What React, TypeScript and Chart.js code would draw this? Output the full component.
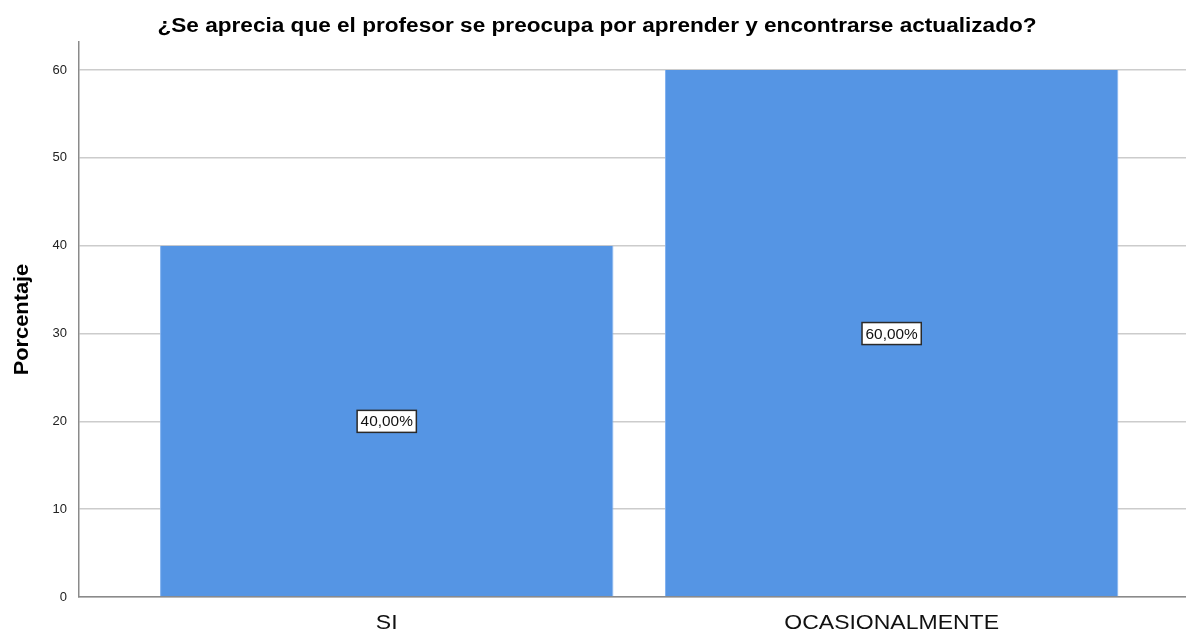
import React, { useEffect, useRef } from "react";
import { Chart, registerables } from "chart.js";

Chart.register(...registerables);

const categories: string[] = ["SI", "OCASIONALMENTE"];
const percentages: number[] = [40, 60];
const valueLabels: string[] = ["40,00%", "60,00%"];
const yTicks: number[] = [0, 10, 20, 30, 40, 50, 60];
const titleText = "¿Se aprecia que el profesor se preocupa por aprender y encontrarse actualizado?";
const yAxisTitle = "Porcentaje";

const W = 1186;
const H = 632;
const FONT = "Arial, 'Liberation Sans', sans-serif";

function stretchedText(
  ctx: CanvasRenderingContext2D,
  text: string,
  x: number,
  y: number,
  font: string,
  sx: number,
  rot = 0
) {
  ctx.save();
  ctx.font = font;
  ctx.textAlign = "center";
  ctx.textBaseline = "alphabetic";
  ctx.translate(x, y);
  if (rot) ctx.rotate(rot);
  ctx.scale(sx, 1);
  ctx.fillText(text, 0, 0);
  ctx.restore();
}

const textPlugin = {
  id: "spssText",
  afterDraw(chart: any) {
    const ctx: CanvasRenderingContext2D = chart.ctx;
    const area = chart.chartArea;
    const xScale = chart.scales.x;
    const yScale = chart.scales.y;

    // title
    ctx.fillStyle = "#000000";
    stretchedText(ctx, titleText, chart.width / 2 + 4, 32, `bold 20px ${FONT}`, 1.13);

    // y axis title
    stretchedText(ctx, yAxisTitle, 28, (area.top + area.bottom) / 2, `bold 20px ${FONT}`, 1.09, -Math.PI / 2);

    // category labels
    ctx.fillStyle = "#111111";
    categories.forEach((c, i) => {
      stretchedText(ctx, c, xScale.getPixelForValue(i), area.bottom + 32, `20px ${FONT}`, 1.15);
    });

    // value labels in boxes
    const meta = chart.getDatasetMeta(0);
    meta.data.forEach((bar: any, i: number) => {
      const cx = bar.x;
      const cy = yScale.getPixelForValue(percentages[i] / 2);
      const font = `14px ${FONT}`;
      ctx.save();
      ctx.font = font;
      const tw = ctx.measureText(valueLabels[i]).width * 1.1;
      ctx.restore();
      const bw = tw + 7;
      const bh = 22;
      ctx.save();
      ctx.fillStyle = "#ffffff";
      ctx.fillRect(cx - bw / 2, cy - bh / 2, bw, bh);
      ctx.strokeStyle = "#2a2a2a";
      ctx.lineWidth = 1.5;
      ctx.strokeRect(cx - bw / 2, cy - bh / 2, bw, bh);
      ctx.restore();
      ctx.fillStyle = "#111111";
      stretchedText(ctx, valueLabels[i], cx, cy + 5, font, 1.1);
    });
  },
};

export default function App() {
  const ref = useRef<HTMLCanvasElement | null>(null);

  useEffect(() => {
    if (!ref.current) return;
    const chart = new Chart(ref.current, {
      type: "bar",
      data: {
        datasets: [
          {
            data: categories.map((c, i) => ({ x: i, y: percentages[i] })),
            backgroundColor: "#5595e4",
            borderColor: "#7fb1ef",
            borderWidth: { left: 1, right: 1, top: 0, bottom: 0 },
            barPercentage: 0.898,
            categoryPercentage: 1,
          },
        ],
      },
      options: {
        responsive: false,
        animation: false,
        layout: { padding: { top: 42, left: 0, right: 0, bottom: 0 } },
        plugins: {
          legend: { display: false },
          tooltip: { enabled: false },
          title: { display: false },
        },
        scales: {
          x: {
            type: "linear",
            offset: false,
            min: -0.6095,
            max: 1.583,
            afterBuildTicks: (scale: any) => {
              scale.ticks = categories.map((_, i) => ({ value: i }));
            },
            afterFit: (scale: any) => {
              scale.height = 35;
            },
            ticks: { display: false },
            grid: { display: false, drawTicks: false, offset: false },
            border: { display: true, color: "#8a8a8a", width: 1.5 },
          },
          y: {
            min: 0,
            max: 63.2,
            afterBuildTicks: (scale: any) => {
              scale.ticks = yTicks.map((v) => ({ value: v }));
            },
            afterFit: (scale: any) => {
              scale.width = 79;
            },
            ticks: {
              padding: 12,
              color: "#222222",
              font: { family: FONT, size: 13 },
            },
            grid: { color: "#cccccc", lineWidth: 1.5, drawTicks: false },
            border: { display: true, color: "#8a8a8a", width: 1.5 },
          },
        },
      },
      plugins: [textPlugin],
    });
    return () => chart.destroy();
  }, []);

  return (
    <div style={{ position: "absolute", left: 0, top: 0, width: W, height: H, background: "#ffffff" }}>
      <canvas ref={ref} width={W} height={H} style={{ display: "block" }} />
    </div>
  );
}
